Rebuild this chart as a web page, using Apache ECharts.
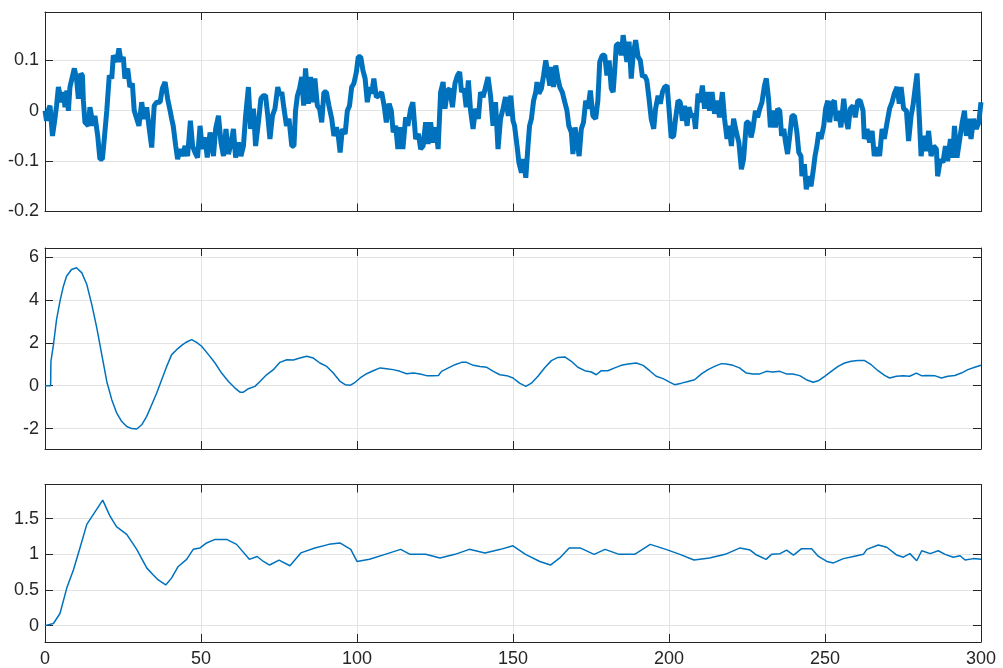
<!DOCTYPE html>
<html><head><meta charset="utf-8">
<script src="https://cdn.jsdelivr.net/npm/echarts@6/dist/echarts.min.js"></script>
<style>html,body{margin:0;padding:0;background:#fff}#c{width:1003px;height:668px}</style>
</head><body><div id="c"></div>
<script>
// ---------- data ----------
const xTickLabels = [0, 50, 100, 150, 200, 250, 300];
const yTicksTop = [-0.2, -0.1, 0, 0.1];
const yTicksMid = [-2, 0, 2, 4, 6];
const yTicksBot = [0, 0.5, 1, 1.5];

const tTop = [0,0.5,1,1.6,2.4,3.2,3.7,4.3,4.8,5.3,5.9,6.4,7,7.5,8,8.5,9.4,10.1,10.7,11.5,12,12.3,12.8,13.4,13.9,14.4,15,15.5,16,16.9,17.6,18.4,19,19.8,20.6,21.4,21.9,22.4,23,23.7,24.4,25.1,25.6,26.5,27.2,28,28.6,29.4,30.1,31,31.7,32.6,33.3,34.2,35,35.8,36.9,37.6,38.5,39.3,40.1,40.6,41.1,41.9,42.5,43.3,44,44.9,45.7,46.6,47.3,48.1,48.9,49.7,50.4,51.3,52,52.9,54,54.7,55.6,56.4,57.2,58,58.8,59.6,60.4,61.1,62,62.8,63.6,64.3,65.2,65.9,66.8,67.5,68.4,69.2,70,70.7,71.4,72.1,72.9,73.7,74.6,75.3,
75.9,76.6,77.4,78.2,79.1,79.8,80.3,80.9,81.6,82.3,82.9,83.5,84.4,85.1,85.9,86.5,87.3,88,88.7,89.4,90.2,91,91.9,92.6,93.4,94,94.6,95.3,96.2,96.9,97.6,98.3,99,99.8,100.4,101.2,101.9,102.6,103.3,104.1,104.7,105.4,106.2,107,107.9,108.7,109.4,110.3,111,111.6,112.4,113.1,114,114.7,115.6,116.3,117.2,117.9,118.8,119.7,120.4,121.2,122,122.8,123.6,124.4,125.2,126,126.8,127.6,128.2,129,129.7,130.6,131.4,132.2,132.9,133.5,134.3,135,135.7,136.4,137.2,138,138.9,139.6,140.4,141.2,142,142.8,143.6,144.4,145.2,146,146.8,147.6,148.5,149.3,150,
150.5,151.3,151.9,152.7,153.4,154.1,154.8,155.3,155.9,156.6,157.3,157.7,158.3,159.1,159.8,160.5,161.1,161.8,162.4,163,163.7,164.4,165,165.8,166.6,167.3,167.9,168.7,169.2,169.9,170.5,171.2,171.9,172.6,173.3,174,174.8,175.6,176.5,177.2,177.8,178.6,179.4,180.1,180.8,181.5,182.1,182.6,183.1,184,184.7,185.3,185.9,186.5,187.2,187.9,188.5,189.3,190.1,190.8,191.5,192.2,192.9,193.6,194.3,195.1,195.7,196.5,197.2,197.9,198.6,199.4,200,200.7,201.5,202.1,202.9,203.6,204.3,205,205.8,206.4,207.2,207.9,208.5,209.3,210,210.7,211.4,212.2,213,213.8,214.6,215.4,216.2,217.1,217.8,218.6,219.2,220,220.7,221.6,222.4,223.2,223.9,224.8,
225.5,226.3,226.9,227.7,228.4,229.1,229.8,230.6,231.2,231.9,232.5,233.3,234.1,234.8,235.5,236.1,236.8,237.3,238,238.7,239.4,240.2,241,241.6,242.3,242.6,243.4,244,244.8,245.5,246.2,246.8,247.4,248,248.7,249.6,250.2,250.9,251.5,252.2,253,253.6,254.4,255.1,256,256.7,257.4,258.1,259,259.7,260.5,261.3,262.2,262.6,263.5,264.3,265.1,265.8,266.7,267.5,268.3,269,269.9,270.7,271.5,272.2,273.1,273.8,274.4,275.2,276.1,276.8,277.6,278.2,279,279.5,280.2,280.8,281.6,282.5,283.2,284,284.8,285.7,286.1,287,287.8,288.6,289.3,290.2,290.9,291.5,292.3,293.2,293.9,294.7,295.3,296,296.8,297.6,298.5,299.3,300];
const vTop = [0,-0.02,0,0.01,-0.05,-0.015,0.01,0.047,0.045,0.017,0.037,0.007,0.04,0,0.047,0.045,0.084,0.064,0.024,0.074,0.07,0.02,-0.023,-0.02,-0.03,0.007,0.005,-0.03,-0.01,-0.05,-0.096,-0.096,-0.056,0,0.07,0.064,0.11,0.11,0.097,0.124,0.097,0.107,0.064,0.084,0.047,0.054,0,-0.016,-0.03,0.017,-0.016,0.007,-0.03,-0.073,0.01,0.017,0.017,0.044,0.057,0.024,0,-0.016,-0.03,-0.07,-0.096,-0.076,-0.09,-0.07,-0.09,-0.02,-0.07,-0.083,-0.093,-0.03,-0.076,-0.053,-0.093,-0.043,-0.09,-0.036,-0.01,-0.063,-0.09,-0.036,-0.086,-0.066,-0.036,-0.093,-0.063,-0.09,-0.07,-0.01,0.047,-0.036,0.004,-0.07,-0.023,0.024,0.03,0.03,-0.01,-0.056,-0.01,0.004,0.047,0.03,
0.037,0.004,-0.03,-0.016,-0.07,-0.07,0,0.03,0.044,0.067,0.01,0.084,0.014,0.067,0.017,0.064,0.01,0.004,-0.023,0.037,0.037,0.01,-0.016,-0.05,-0.033,-0.05,-0.083,-0.036,-0.046,0,0.01,0.047,0.054,0.077,0.107,0.107,0.08,0.064,0.017,0.047,0.034,0.064,0.027,0.03,0.037,0.01,-0.023,0.014,0,-0.043,-0.03,-0.076,-0.033,-0.076,-0.013,-0.03,0.004,0.017,-0.056,-0.046,-0.076,-0.07,-0.023,-0.066,-0.023,-0.063,-0.033,-0.076,0.037,0.057,0.004,0.04,0.044,0.007,0.054,0.07,0.077,0.037,0.044,0.007,0.06,0,-0.036,0.004,-0.016,0.037,0.027,0.047,0.067,0.03,-0.03,0.017,-0.076,-0.016,0.004,0.027,-0.01,0.03,-0.02,
-0.03,-0.07,-0.103,-0.123,-0.096,-0.133,-0.07,-0.03,-0.016,0.02,0.037,0.057,0.034,0.044,0.07,0.1,0.097,0.05,0.087,0.047,0.09,0.064,0.047,0.037,0.017,0,-0.03,-0.043,-0.086,-0.033,-0.033,-0.09,-0.036,-0.023,0.02,0.004,0.04,-0.01,-0.016,0.02,0.097,0.11,0.11,0.07,0.1,0.044,0.037,0.08,0.13,0.134,0.11,0.15,0.147,0.097,0.137,0.064,0.11,0.14,0.107,0.1,0.067,0.07,0.06,0.024,-0.016,-0.036,0.004,0.03,0.014,0.037,0.047,0.05,0.004,-0.053,-0.05,-0.016,0.02,0.017,-0.02,0.01,-0.03,0.007,-0.013,-0.006,-0.036,0.034,0.017,0.05,0.004,0.037,0,0.037,-0.006,0.02,-0.013,0.037,-0.016,-0.056,-0.03,-0.07,-0.016,-0.043,-0.063,-0.116,-0.096,-0.023,
-0.023,-0.053,-0.036,0,-0.013,0.004,0.017,0.05,0.064,0.024,-0.033,0,-0.033,0.004,0,-0.05,-0.036,-0.06,-0.086,-0.05,-0.01,-0.01,-0.043,-0.083,-0.09,-0.13,-0.106,-0.156,-0.13,-0.15,-0.12,-0.09,-0.07,-0.043,-0.056,-0.03,0.004,0.02,-0.023,0.014,0.02,-0.02,0,-0.033,0.024,-0.016,-0.036,0.004,0.01,-0.013,0.02,0.02,0,-0.056,-0.036,-0.063,-0.04,-0.09,-0.073,-0.09,-0.036,-0.056,-0.023,0.004,0.017,0.034,0.047,0.014,0.047,0.004,0,-0.06,-0.01,0.01,0.05,0.074,-0.01,-0.09,-0.05,-0.08,-0.04,-0.09,-0.07,-0.076,-0.13,-0.096,-0.103,-0.07,-0.1,-0.056,-0.093,-0.03,-0.093,-0.056,-0.026,0,-0.05,-0.016,-0.056,-0.016,-0.036,-0.023,0.017];

const tMid = [0,1.8,1.9,2.7,3.7,4.8,5.9,6.9,8.5,10.1,11.8,13.4,15,16.6,18.2,19.8,21.4,23,24.6,26.2,27.8,29.4,31,32.6,34.2,35.8,37.4,39,40.6,42.2,43.8,45.4,47,48.6,50.2,52.4,54.5,56.6,58.8,60.9,62.5,63.6,65.2,67.3,68.9,71,73.2,75.3,77.5,79.6,81.7,83.9,86,88.1,90.3,92.4,94.6,96.2,97.8,99.4,101,103.1,105.2,107.4,109.5,111.6,113.8,115.9,118.1,120.2,122.3,124.5,126.1,127.1,129.3,131.4,133.5,135.1,137.3,139.4,141.6,143.7,145.8,148,150,152.1,154.1,155.9,158,160.1,162.3,164.4,166.6,168.7,170.8,173,175.1,176.7,178.3,180.4,182.6,184.7,186.9,189.5,191.7,193.8,195.9,198.1,200.2,201.8,204,206.1,208.2,210.4,212.5,214.6,216.8,218.4,220.5,222.6,224.8,226.9,229.1,231.2,233.3,235.5,237.6,239.7,241.9,244,246.2,247.8,249.9,252,254.2,256.3,258.4,260.6,262.7,264.8,267,269.1,270.7,272.9,275,277.1,279.3,280.9,283,285.1,287.3,289.4,291.6,293.7,295.8,298,300];
const vMid = [0,0,1.14,1.9,3.08,3.94,4.64,5.1,5.42,5.5,5.26,4.72,3.78,2.7,1.45,0.2,-0.65,-1.28,-1.67,-1.9,-2.0,-2.02,-1.82,-1.43,-0.89,-0.34,0.28,0.9,1.45,1.68,1.88,2.04,2.15,2.02,1.84,1.45,1.06,0.59,0.2,-0.11,-0.3,-0.3,-0.14,-0.03,0.2,0.51,0.75,1.09,1.21,1.2,1.29,1.37,1.29,1.06,0.9,0.59,0.2,0.05,0.02,0.16,0.36,0.56,0.7,0.83,0.79,0.75,0.67,0.56,0.59,0.55,0.47,0.47,0.48,0.67,0.83,0.98,1.09,1.09,0.95,0.9,0.86,0.67,0.51,0.47,0.36,0.12,-0.03,0.12,0.44,0.83,1.17,1.32,1.34,1.14,0.86,0.7,0.64,0.51,0.7,0.7,0.83,0.95,1.01,1.06,0.95,0.7,0.44,0.33,0.17,0.05,0.12,0.2,0.28,0.55,0.75,0.9,1.03,1.01,0.95,0.83,0.59,0.55,0.55,0.67,0.64,0.67,0.55,0.55,0.47,0.28,0.16,0.23,0.44,0.67,0.9,1.06,1.14,1.18,1.17,0.98,0.7,0.48,0.36,0.44,0.47,0.44,0.59,0.47,0.48,0.47,0.36,0.44,0.48,0.59,0.75,0.86,0.95];

const tBot = [0,2.7,4.8,7,9.1,11.2,13.4,15.5,18.5,20.8,22.9,26.2,29.4,32.6,34.7,36.3,38.7,40.6,42.7,45.4,47.5,49.7,51.8,54.5,58.2,61.4,65.5,68,70,72,75,78.5,82,86.5,91,94.5,98,100,104,109,114,117,122,126.6,131.4,136,141,146,150,154,158.6,162,165,168,171.5,176,179.5,184,189,194,199,203.5,208,213,218,222.8,226,228.1,231.1,232.9,235.6,237.7,239.9,242.5,245.7,247.9,250.6,252.7,255.9,259.1,262.3,263.4,267.1,269.8,273,275.1,277.2,279.4,281,283.7,286.3,288.5,291.1,293.3,294.9,297.6,300];
const vBot = [0,0.03,0.17,0.53,0.78,1.09,1.42,1.56,1.76,1.54,1.39,1.28,1.07,0.81,0.71,0.64,0.57,0.67,0.83,0.93,1.07,1.09,1.16,1.21,1.21,1.14,0.93,0.97,0.9,0.85,0.92,0.84,1.02,1.09,1.14,1.16,1.07,0.9,0.93,1.0,1.07,1.0,1.0,0.95,1.0,1.07,1.02,1.07,1.12,1.0,0.9,0.85,0.95,1.09,1.09,1.0,1.07,1.0,1.0,1.14,1.07,1.0,0.92,0.95,1.0,1.09,1.06,0.99,0.93,1.0,1.01,1.06,0.99,1.08,1.08,0.97,0.9,0.88,0.94,0.97,1.0,1.07,1.13,1.1,0.99,0.96,1.01,0.91,1.05,1.01,1.05,1.0,0.96,0.98,0.92,0.94,0.93];

// ---------- chart ----------
const pair = (ts, vs) => ts.map((t, i) => [t, vs[i]]);
const FONT = "'Liberation Sans', Arial, Helvetica, sans-serif";
const TXT = '#262626';
const GRIDC = '#e3e3e3';
const LEFT = 45, WIDTH = 936;
const gridDefs = [
  {top: 12, height: 199.5},
  {top: 248, height: 201},
  {top: 484.5, height: 157.5}
];
const yRanges = [[-0.2, 0.196], [-2.95, 6.42], [-0.23, 1.98]];
const yTickSets = [yTicksTop, yTicksMid, yTicksBot];
const near = (list, v) => list.some(t => Math.abs(t - v) < 1e-6);

const axisLine = {show: true, onZero: false, lineStyle: {color: TXT, width: 1}};
const axisTick = {show: true, inside: true, length: 8, lineStyle: {color: TXT, width: 1}};

const grid = gridDefs.map(g => ({left: LEFT, width: WIDTH, top: g.top, height: g.height, containLabel: false, outerBoundsMode: 'none'}));
const xAxis = [], yAxis = [];
for (let i = 0; i < 3; i++) {
  xAxis.push({
    type: 'value', gridIndex: i, min: 0, max: 300, position: 'bottom',
    axisLine, axisTick,
    splitLine: {show: true, lineStyle: {color: GRIDC, width: 1}},
    axisLabel: {show: i === 2, margin: 8, color: TXT, fontSize: 18, fontFamily: FONT,
      formatter: v => near(xTickLabels, v) ? String(v) : ''}
  });
  yAxis.push({
    type: 'value', gridIndex: i, min: yRanges[i][0], max: yRanges[i][1], position: 'left',
    axisLine, axisTick,
    splitLine: {show: true, lineStyle: {color: GRIDC, width: 1}},
    axisLabel: {show: true, margin: 6, color: TXT, fontSize: 18, fontFamily: FONT,
      formatter: v => near(yTickSets[i], v) ? String(Math.round(v * 10) / 10) : ''}
  });
}
for (let i = 0; i < 3; i++) {
  xAxis.push({
    type: 'value', gridIndex: i, min: 0, max: 300, position: 'top',
    axisLine, axisTick, splitLine: {show: false}, axisLabel: {show: false}
  });
  yAxis.push({
    type: 'value', gridIndex: i, min: yRanges[i][0], max: yRanges[i][1], position: 'right',
    axisLine, axisTick, splitLine: {show: false}, axisLabel: {show: false}
  });
}

const mk = (i, data, w) => ({
  type: 'line', xAxisIndex: i, yAxisIndex: i, data, showSymbol: false, symbol: 'none',
  lineStyle: {color: '#0072BD', width: w}, clip: true, silent: true, z: 5
});

const chart = echarts.init(document.getElementById('c'), null, {renderer: 'canvas'});
chart.setOption({
  animation: false,
  backgroundColor: '#ffffff',
  grid, xAxis, yAxis,
  series: [
    mk(0, pair(tTop, vTop), 5),
    mk(1, pair(tMid, vMid), 1.5),
    mk(2, pair(tBot, vBot), 1.5)
  ]
});
</script></body></html>
